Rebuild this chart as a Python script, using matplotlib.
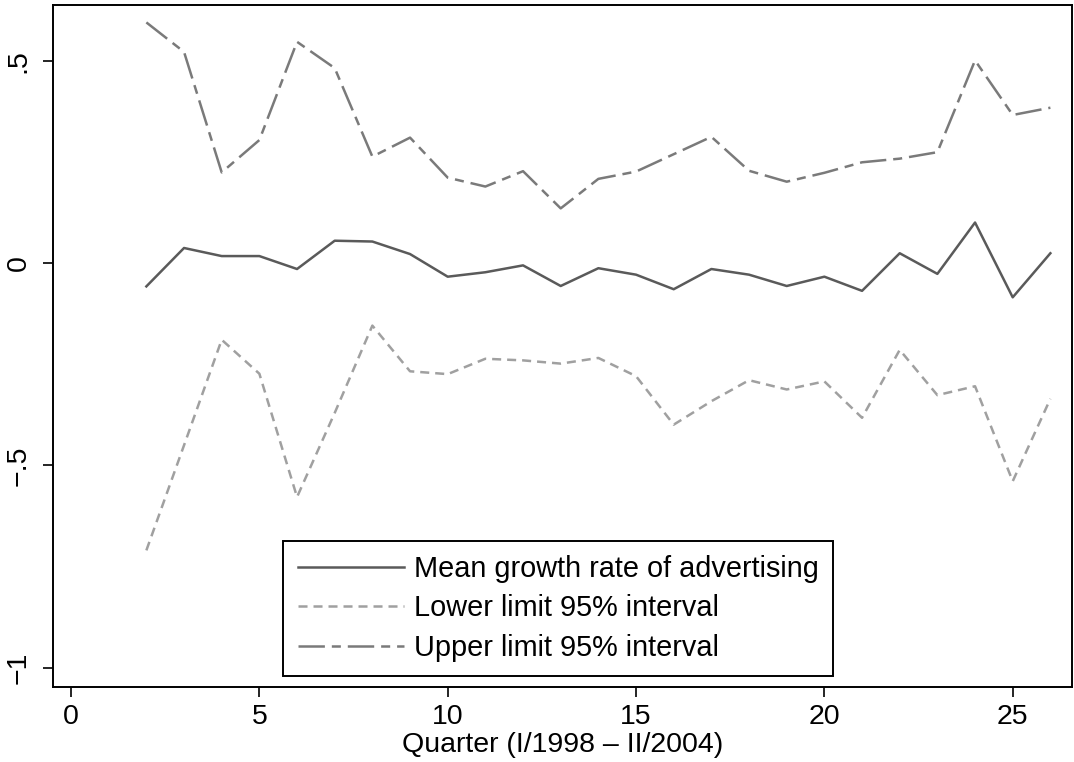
import matplotlib
matplotlib.use("Agg")
import matplotlib.pyplot as plt
from matplotlib.ticker import FixedLocator

plt.rcParams['font.family'] = ['Liberation Sans', 'DejaVu Sans']
plt.rcParams['lines.scale_dashes'] = False

quarter = list(range(2, 27))
mean_growth = [-0.057, 0.038, 0.018, 0.018, -0.014, 0.056, 0.054, 0.023, -0.033, -0.022,
               -0.005, -0.056, -0.012, -0.028, -0.064, -0.014, -0.028, -0.056, -0.033,
               -0.068, 0.025, -0.026, 0.101, -0.084, 0.025]
lower = [-0.71, -0.45, -0.189, -0.273, -0.578, -0.37, -0.154, -0.267, -0.274, -0.236,
         -0.240, -0.248, -0.234, -0.279, -0.399, -0.341, -0.289, -0.312, -0.292,
         -0.382, -0.214, -0.326, -0.304, -0.539, -0.335]
upper = [0.596, 0.523, 0.225, 0.305, 0.548, 0.483, 0.264, 0.311, 0.212, 0.190,
         0.228, 0.136, 0.209, 0.227, 0.270, 0.313, 0.229, 0.202, 0.224,
         0.250, 0.259, 0.275, 0.502, 0.367, 0.385]

labels = ["Mean growth rate of advertising", "Lower limit 95% interval", "Upper limit 95% interval"]
xticks = [0, 5, 10, 15, 20, 25]
yticks = [-1, -0.5, 0, 0.5]
yticklabels = ["\u22121", "\u2212.5", "0", ".5"]

fig = plt.figure(figsize=(10.74, 7.62), dpi=100)
ax = fig.add_axes([0.0493, 0.0984, 0.9487, 0.895])

lw = 1.8
ax.plot(quarter, mean_growth, color="#5a5a5a", lw=lw, label=labels[0])
ax.plot(quarter, lower, color="#a0a0a0", lw=lw, dashes=(6.5, 4.3), label=labels[1])
ax.plot(quarter, upper, color="#7a7a7a", lw=lw, dashes=(19, 5, 6.5, 5), label=labels[2])

ax.set_xlim(-0.48, 26.57)
ax.set_ylim(-1.048, 0.639)
ax.xaxis.set_major_locator(FixedLocator(xticks))
ax.set_xticklabels([str(t) for t in xticks], fontsize=20.5)
ax.yaxis.set_major_locator(FixedLocator(yticks))
ax.set_yticklabels(yticklabels, fontsize=20.5, rotation=90, va='center')
ax.tick_params(direction='out', length=7.5, width=1.2)
ax.tick_params(axis='y', pad=8)
ax.tick_params(axis='x', pad=5)
for s in ax.spines.values():
    s.set_linewidth(1.4)
ax.set_xlabel("Quarter (I/1998 \u2013 II/2004)", fontsize=20.5, labelpad=1)

leg = ax.legend(loc='lower left', bbox_to_anchor=(0.226, 0.016), borderaxespad=0,
                fontsize=20.8, handlelength=3.67, handletextpad=0.35, labelspacing=0.39,
                fancybox=False, edgecolor='black', framealpha=1, borderpad=0.5)
leg.get_frame().set_linewidth(1.4)

fig.savefig("out.png", dpi=100)
